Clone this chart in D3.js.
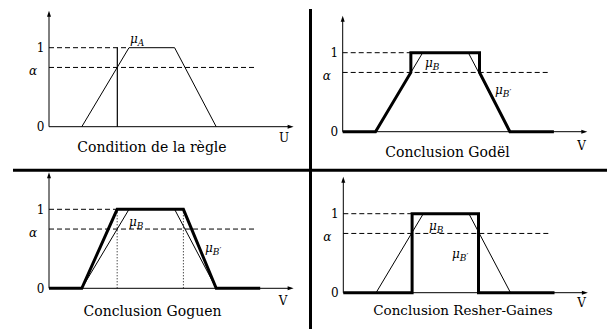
<!DOCTYPE html>
<html>
<head>
<meta charset="utf-8">
<script src="https://cdn.jsdelivr.net/npm/d3@7"></script>
<style>
  body { margin: 0; background: #fff; }
  svg { display: block; }
</style>
</head>
<body>
<div id="chart"></div>
<script>
// membership values (x in arbitrary units, y in [0,1])
const alpha = 0.75;
const muX = [2.05, 5, 7.85, 10.45];
const muY = [0, 1, 1, 0];
const obsX = 4.27;            // observed value in the rule condition
const axisXMax = 15.1;
const axisYMax = 1.43;
const dashEnd = 12.9;

const godelX = [0, 2.05, 4.26, 4.26, 8.55, 8.55, 10.45, 13.2];
const godelY = [0, 0, 0.75, 1, 1, 0.75, 0, 0];
const goguenX = [0, 2.05, 4.26, 8.4, 10.45, 13.2];
const goguenY = [0, 0, 1, 1, 0, 0];
const rgX = [0, 4.3, 4.3, 8.45, 8.45, 13.2];
const rgY = [0, 0, 1, 1, 0, 0];

const tickLabels = ["0", "α", "1"];
const captions = ["Condition de la règle", "Conclusion Godël", "Conclusion Goguen", "Conclusion Resher-Gaines"];
const axisNames = ["U", "V", "V", "V"];

const FONT = "'DejaVu Serif', 'Liberation Serif', serif";
const W = 607, H = 329;
const svg = d3.select("#chart").append("svg")
    .attr("width", W)
    .attr("height", H)
    .style("font-family", FONT);

const zip = (xs, ys) => xs.map((x, i) => [x, ys[i]]);

// panel layout: origin of each small plot
const panels = [
    {ox: 49, oy: 126.7, cap: [152, 152], name: [284, 142], thick: null, dash1: muX[1],
     muLabel: {t: "A", x: 130, y: 43}},
    {ox: 342.7, oy: 131.7, cap: [447.5, 157], name: [581.5, 150], thick: zip(godelX, godelY), dash1: godelX[2],
     muLabel: {t: "B", x: 425, y: 67}, mu2: {x: 495, y: 94}},
    {ox: 49, oy: 288.3, cap: [152.5, 316], name: [283, 305], thick: zip(goguenX, goguenY), dash1: goguenX[2],
     muLabel: {t: "B", x: 129, y: 226}, mu2: {x: 205, y: 252}, dotted: [goguenX[2], goguenX[3]]},
    {ox: 343.3, oy: 292.7, cap: [463, 315], name: [581.5, 307], thick: zip(rgX, rgY), dash1: rgX[1],
     muLabel: {t: "B", x: 429, y: 230}, mu2: {x: 452, y: 258}}
];

panels.forEach((p, i) => {
    const x = d3.scaleLinear().domain([0, 15]).range([p.ox, p.ox + 240]);
    const y = d3.scaleLinear().domain([0, 1]).range([p.oy, p.oy - 79]);
    const g = svg.append("g");
    const line = d3.line().x(d => x(d[0])).y(d => y(d[1]));

    // axes with arrow heads
    g.append("line")
        .attr("x1", x(0)).attr("x2", x(axisXMax))
        .attr("y1", y(0)).attr("y2", y(0))
        .attr("stroke", "#000").attr("stroke-width", 1);
    g.append("line")
        .attr("x1", x(0)).attr("x2", x(0))
        .attr("y1", y(0)).attr("y2", y(axisYMax))
        .attr("stroke", "#000").attr("stroke-width", 1);
    g.append("path")
        .attr("d", `M${x(axisXMax) + 3},${y(0)} l-6,-2 l0,4 z`)
        .attr("fill", "#000");
    g.append("path")
        .attr("d", `M${x(0)},${y(axisYMax) - 3} l-2,6 l4,0 z`)
        .attr("fill", "#000");

    // dashed guide lines
    g.append("line")
        .attr("x1", x(0)).attr("x2", x(p.dash1))
        .attr("y1", y(1)).attr("y2", y(1))
        .attr("stroke", "#000").attr("stroke-dasharray", "5,3");
    g.append("line")
        .attr("x1", x(0)).attr("x2", x(dashEnd))
        .attr("y1", y(alpha)).attr("y2", y(alpha))
        .attr("stroke", "#000").attr("stroke-dasharray", "5,3");

    // tick labels 0, alpha, 1
    const tv = [0, alpha, 1];
    g.selectAll("text.tick")
        .data(tickLabels)
        .enter().append("text")
        .attr("class", "tick")
        .attr("x", (d, j) => j === 1 ? x(0) - 16 : x(0) - 8.5)
        .attr("y", (d, j) => y(tv[j]) + (j === 1 ? 8 : 4.5))
        .attr("text-anchor", "middle")
        .style("font-size", "12px")
        .style("font-style", (d, j) => j === 1 ? "italic" : "normal")
        .text(d => d);

    // thin membership function
    g.append("path")
        .datum(zip(muX, muY))
        .attr("d", line)
        .attr("fill", "none")
        .attr("stroke", "#000")
        .attr("stroke-width", 1);

    if (i === 0) {
        g.append("line")
            .attr("x1", x(obsX)).attr("x2", x(obsX))
            .attr("y1", y(0)).attr("y2", y(1))
            .attr("stroke", "#000").attr("stroke-width", 1.2);
    }

    if (p.dotted) {
        g.selectAll("line.dot")
            .data(p.dotted)
            .enter().append("line")
            .attr("x1", d => x(d)).attr("x2", d => x(d))
            .attr("y1", y(0)).attr("y2", y(1))
            .attr("stroke", "#000")
            .attr("stroke-dasharray", "1,2");
    }

    if (p.thick) {
        g.append("path")
            .datum(p.thick)
            .attr("d", line)
            .attr("fill", "none")
            .attr("stroke", "#000")
            .attr("stroke-width", 3)
            .attr("stroke-linejoin", "miter");
    }

    // mu labels
    const ml = g.append("text")
        .attr("x", p.muLabel.x).attr("y", p.muLabel.y)
        .style("font-size", "12px");
    ml.append("tspan").style("font-style", "italic").text("μ");
    ml.append("tspan").attr("dy", 3).style("font-size", "9px").style("font-style", "italic").text(p.muLabel.t);

    if (p.mu2) {
        const m2 = g.append("text")
            .attr("x", p.mu2.x).attr("y", p.mu2.y)
            .style("font-size", "12px");
        m2.append("tspan").style("font-style", "italic").text("μ");
        m2.append("tspan").attr("dy", 3).style("font-size", "9px").style("font-style", "italic").text("B");
        m2.append("tspan").attr("dy", -3).style("font-size", "8px").text("′");
    }

    // axis name and caption
    g.append("text")
        .attr("x", p.name[0]).attr("y", p.name[1])
        .attr("text-anchor", "middle")
        .style("font-size", "12px")
        .text(axisNames[i]);
    g.append("text")
        .attr("x", p.cap[0]).attr("y", p.cap[1])
        .attr("text-anchor", "middle")
        .style("font-size", i === 3 ? "13.5px" : "14px")
        .text(captions[i]);
});

// separating rules
svg.append("line")
    .attr("x1", 13).attr("x2", W)
    .attr("y1", 170.3).attr("y2", 170.3)
    .attr("stroke", "#000").attr("stroke-width", 3);
svg.append("line")
    .attr("x1", 310.5).attr("x2", 310.5)
    .attr("y1", 9).attr("y2", H)
    .attr("stroke", "#000").attr("stroke-width", 3);
</script>
</body>
</html>
